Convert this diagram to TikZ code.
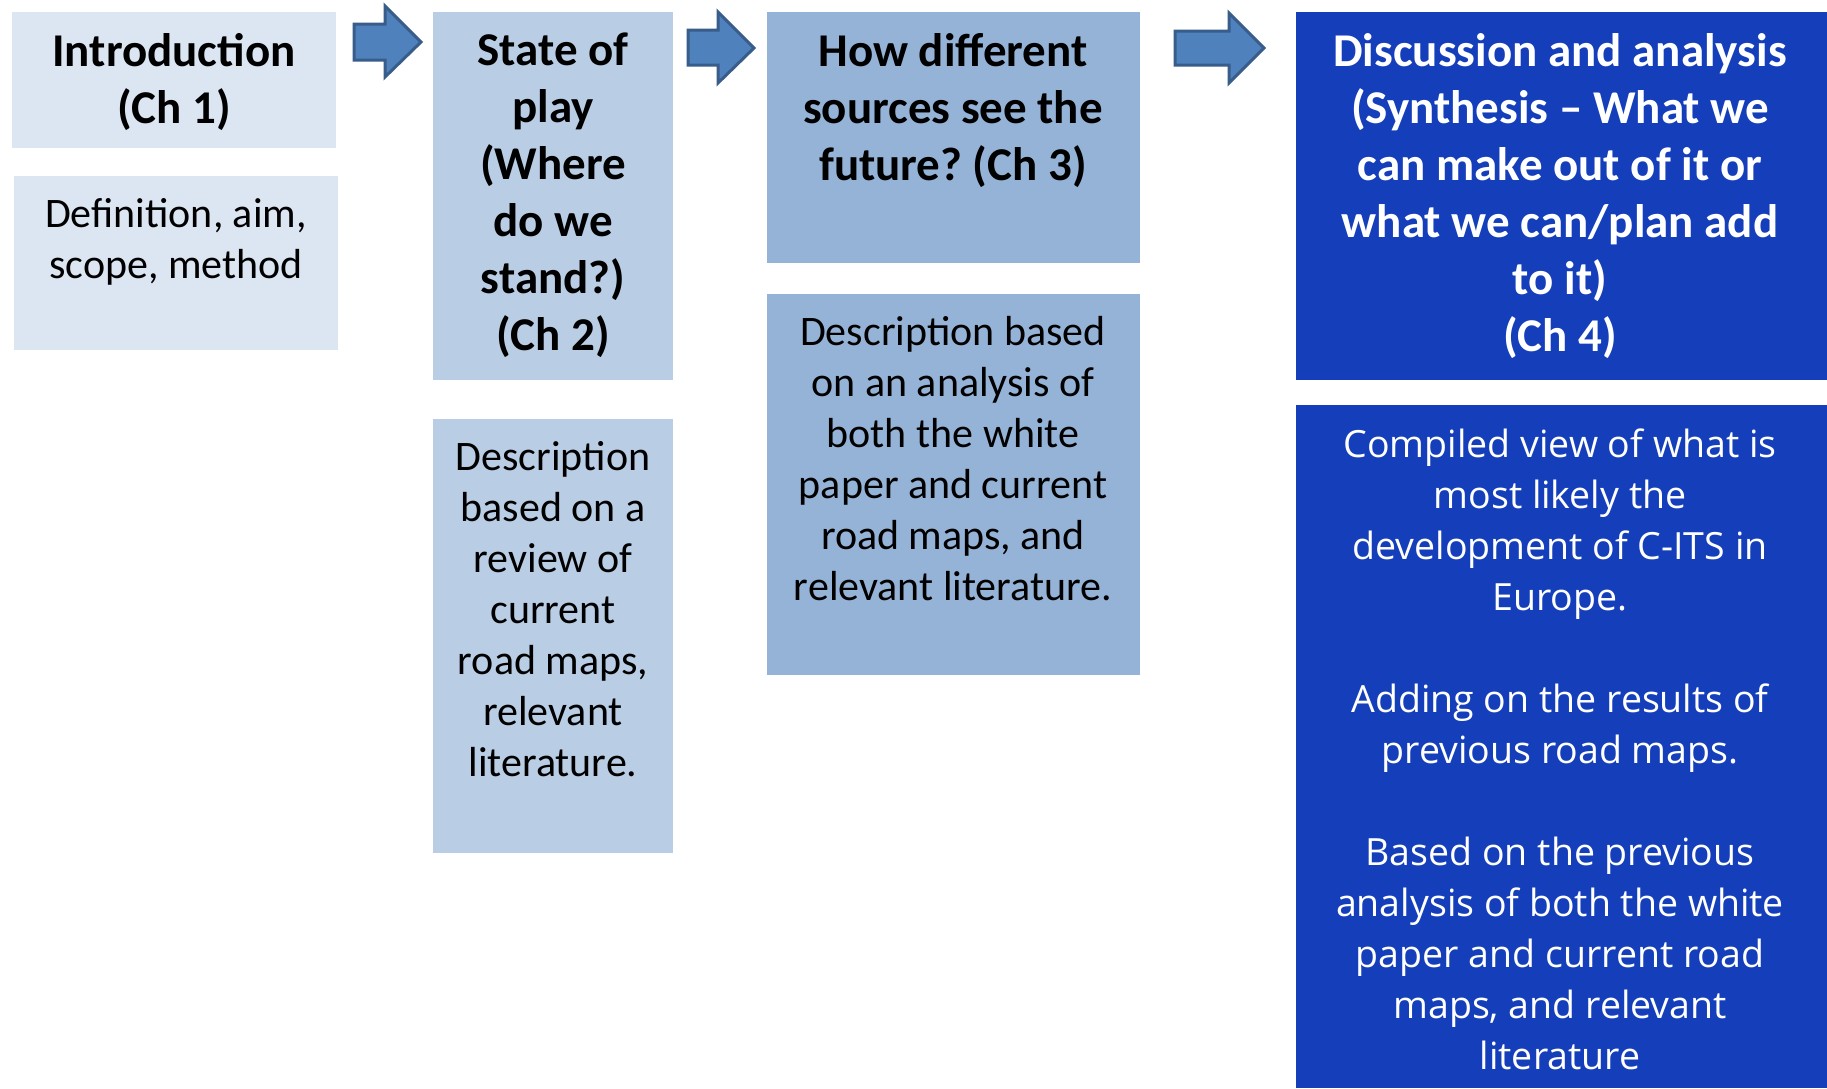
\documentclass[tikz,border=0pt]{standalone}
\usepackage{fontspec}
\setmainfont{Carlito}
\newfontfamily\osans{Open Sans}
\frenchspacing
\definecolor{cIntro}{HTML}{DCE6F2}
\definecolor{cState}{HTML}{B9CDE5}
\definecolor{cThree}{HTML}{95B3D7}
\definecolor{cFour}{HTML}{153FBA}
\definecolor{arrFill}{HTML}{4F81BD}
\definecolor{arrDraw}{HTML}{385D8A}
\newcommand{\fl}{\rule{0pt}{30pt}}
\tikzset{
  panel/.style={rectangle, inner sep=0pt, draw=none, anchor=north west},
  ttl/.style={anchor=north, inner sep=0pt, align=center, font=\fontsize{47}{57}\selectfont\bfseries},
  bdy/.style={anchor=north, inner sep=0pt, align=center, font=\fontsize{42}{51}\selectfont},
  bdyfour/.style={anchor=north, inner sep=0pt, align=center, font=\osans\fontsize{37.5}{51}\selectfont, text=white},
  blockarrow/.style={fill=arrFill, draw=arrDraw, line width=3pt, line join=miter}
}
\begin{document}
\begin{tikzpicture}[x=1pt,y=-1pt]
\useasboundingbox (0,0) rectangle (1827,1088);
\fill[white] (0,0) rectangle (1827,1088);

% panels
\node[panel, fill=cIntro, minimum width=324pt, minimum height=136pt] (introBox) at (12,12) {};
\node[panel, fill=cIntro, minimum width=324pt, minimum height=174pt] (defBox) at (14,176) {};
\node[panel, fill=cState, minimum width=240pt, minimum height=368pt] (stateBox) at (433,12) {};
\node[panel, fill=cState, minimum width=240pt, minimum height=434pt] (stateDesc) at (433,419) {};
\node[panel, fill=cThree, minimum width=373pt, minimum height=251pt] (threeBox) at (767,12) {};
\node[panel, fill=cThree, minimum width=373pt, minimum height=381pt] (threeDesc) at (767,294) {};
\node[panel, fill=cFour, minimum width=531pt, minimum height=368pt] (fourBox) at (1296,12) {};
\node[panel, fill=cFour, minimum width=531pt, minimum height=683pt] (fourDesc) at (1296,405) {};

% texts
\node[ttl] (introT) at (174,33) {\fl Introduction\\(Ch 1)};
\node[bdy] (defT) at (176,197) {\fl Definition, aim,\\scope, method};
\node[ttl] (stateT) at (553,33) {\fl State of\\play\\(Where\\do we\\stand?)\\(Ch 2)};
\node[bdy] (stateDT) at (553,440) {\fl Description\\based on a\\review of\\current\\road maps,\\relevant\\literature.};
\node[ttl] (threeT) at (953,33) {\fl How different\\sources see the\\future? (Ch 3)};
\node[bdy] (threeDT) at (953,315) {\fl Description based\\on an analysis of\\both the white\\paper and current\\road maps, and\\relevant literature.};
\node[ttl, text=white] (fourT) at (1560,33) {\fl Discussion and analysis\\(Synthesis – What we\\can make out of it or\\what we can/plan add\\to it)\\(Ch 4)};
\node[bdyfour] (fourDT) at (1560,427) {\fl Compiled view of what is\\most likely the\\development of C-ITS in\\Europe.\\[51pt]Adding on the results of\\previous road maps.\\[51pt]Based on the previous\\analysis of both the white\\paper and current road\\maps, and relevant\\literature};

% block arrows
\draw[blockarrow] (354,24) -- (385,24) -- (385,6) -- (421,42) -- (385,77) -- (385,60) -- (354,60) -- cycle;
\draw[blockarrow] (688,30) -- (718,30) -- (718,12) -- (754,48) -- (718,83) -- (718,65) -- (688,65) -- cycle;
\draw[blockarrow] (1175,31) -- (1229,31) -- (1229,13) -- (1264,48) -- (1229,83) -- (1229,65) -- (1175,65) -- cycle;
\end{tikzpicture}
\end{document}
